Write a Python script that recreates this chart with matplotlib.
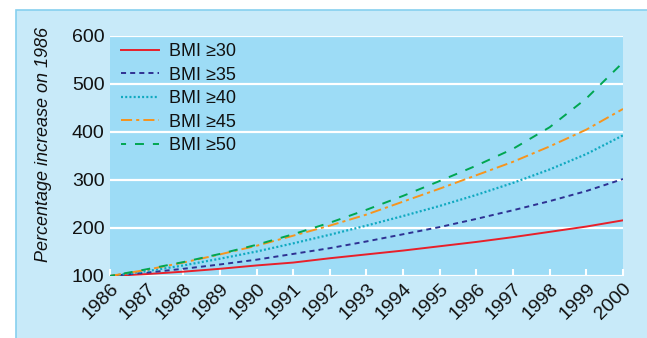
import matplotlib.pyplot as plt
from matplotlib.patches import Rectangle

years = list(range(1986, 2001))
bmi30 = [100, 104, 109, 115, 122, 128, 137, 145, 153, 162, 171, 181, 192, 203, 216]
bmi35 = [100, 107, 115, 124, 134, 146, 158, 172, 187, 202, 219, 237, 256, 277, 302]
bmi40 = [100, 110, 122, 136, 151, 168, 186, 205, 225, 246, 269, 294, 322, 354, 393]
bmi45 = [100, 113, 128, 145, 163, 184, 205, 228, 255, 282, 310, 338, 370, 405, 448]
bmi50 = [100, 114, 129, 146, 165, 187, 211, 238, 267, 298, 330, 365, 410, 470, 545]

plt.rcParams['font.family'] = ['Liberation Sans', 'DejaVu Sans']

fig = plt.figure(figsize=(6.47, 3.38), dpi=100)
fig.patch.set_facecolor('white')
# light blue panel with a thin border
fig.patches.append(Rectangle((16 / 647, -0.05), 1.1, 1 - 10 / 338 + 0.05,
                             transform=fig.transFigure, facecolor='#c8eaf9',
                             edgecolor='#86d0ef', linewidth=1.2, zorder=-1))

ax = fig.add_axes([110 / 647, 1 - 276 / 338, 513 / 647, 240 / 338])
ax.set_facecolor('#9ddcf6')

ax.plot(years, bmi30, color='#e8202a', lw=1.4, label='BMI \u226530')
ax.plot(years, bmi35, color='#2e3192', lw=1.4, ls=(0, (2.6, 2.1)), label='BMI \u226535')
ax.plot(years, bmi40, color='#10a9c0', lw=1.6, ls=(0, (0.9, 1.0)), label='BMI \u226540')
ax.plot(years, bmi45, color='#f7941d', lw=1.4, ls=(0, (5.7, 2.1, 1.6, 2.1)), label='BMI \u226545')
ax.plot(years, bmi50, color='#00a651', lw=1.4, ls=(2, (4.6, 4.6)), label='BMI \u226550')

ax.set_xlim(1986, 2000)
ax.set_ylim(100, 600)
ax.set_yticks([100, 200, 300, 400, 500, 600])
ax.set_xticks(years)
ax.set_xticklabels([str(y) for y in years], rotation=45, ha='right',
                   rotation_mode='anchor', fontsize=14)
ax.tick_params(axis='x', direction='in', colors='white', length=5, width=1.5,
               labelcolor='#111111', pad=3)
ax.tick_params(axis='y', length=0, labelsize=14, labelcolor='#111111', pad=4)
for s in ax.spines.values():
    s.set_visible(False)
ax.grid(axis='y', color='white', lw=1.6)
ax.set_axisbelow(True)

ax.set_ylabel('Percentage increase on 1986', fontstyle='italic', fontsize=13,
              color='#111111')
ax.yaxis.set_label_coords(-0.113, 0.55)

leg = ax.legend(loc='upper left', frameon=False, fontsize=13, handlelength=2.1,
                labelspacing=0.36, borderaxespad=0, borderpad=0,
                handletextpad=0.55, bbox_to_anchor=(0.0214, 0.97))
for t in leg.get_texts():
    t.set_color('#111111')

fig.savefig('out.png', dpi=100)
